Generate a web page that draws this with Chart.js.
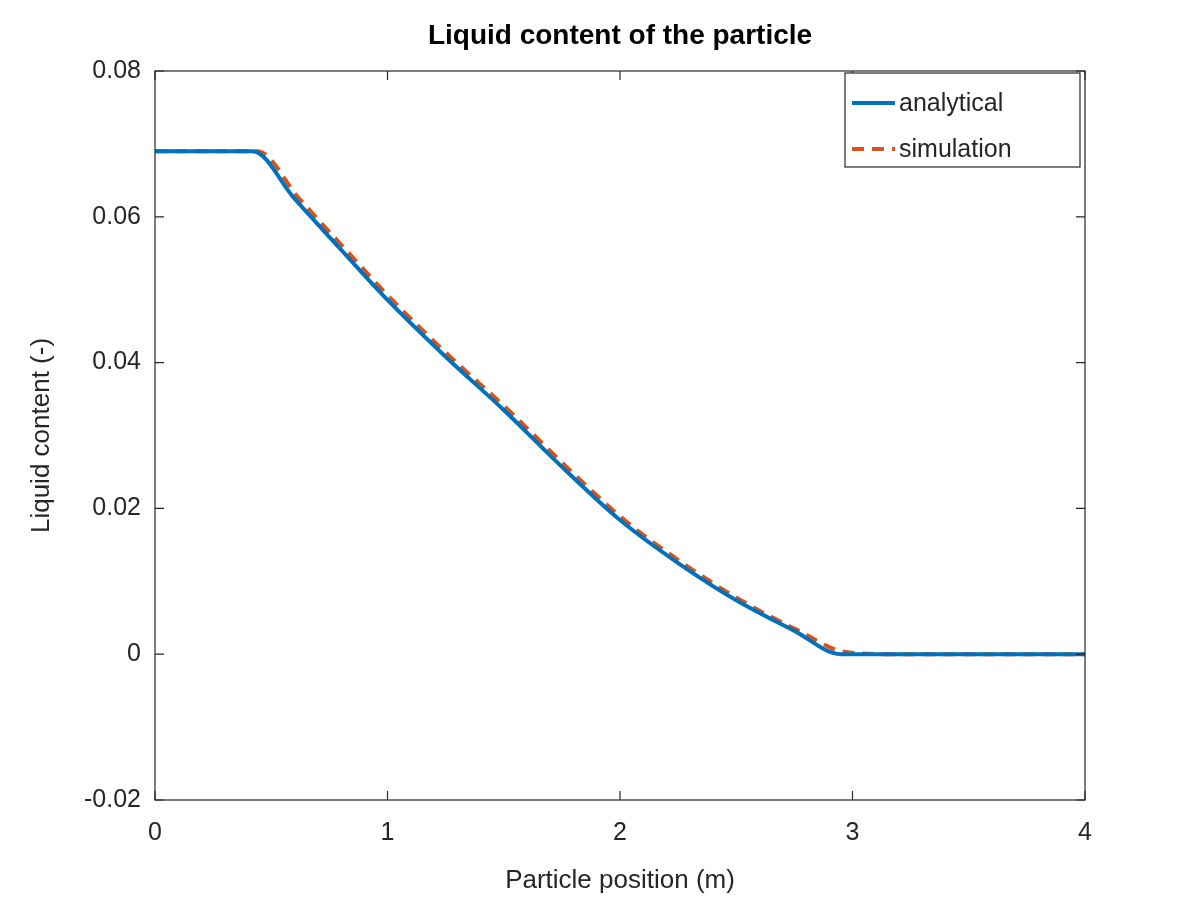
<!DOCTYPE html>
<html>
<head>
<meta charset="utf-8">
<script src="https://cdn.jsdelivr.net/npm/chart.js@4"></script>
<style>
  html, body { margin: 0; background: #fff; }
  #wrap { width: 1200px; height: 900px; }
</style>
</head>
<body>
<div id="wrap"><canvas id="chart" width="1200" height="900"></canvas></div>
<script>
const ctx = document.getElementById("chart").getContext("2d");

// values
const analyticalX = [0, 0.42, 0.6, 0.8, 1.0, 1.25, 1.5, 1.75, 2.0, 2.25, 2.5, 2.75, 2.95, 3.2, 4];
const analyticalY = [0.069, 0.069, 0.0625, 0.0555, 0.0486, 0.0408, 0.0335, 0.0257, 0.0184, 0.0125, 0.0074, 0.0032, 0, 0, 0];
const simulationX = [0, 0.44, 0.62, 0.82, 1.02, 1.27, 1.52, 1.77, 2.02, 2.27, 2.52, 2.77, 2.97, 3.2, 4];
const simulationY = [0.069, 0.069, 0.0625, 0.0555, 0.0486, 0.0408, 0.0335, 0.0257, 0.0184, 0.0125, 0.0074, 0.0032, 0.0003, 0, 0];
const xTicks = [0, 1, 2, 3, 4];
const yTicks = [-0.02, 0, 0.02, 0.04, 0.06, 0.08];

const FONT = "'Liberation Sans', Arial, sans-serif";
const pts = (xs, ys) => xs.map((x, i) => ({ x: x, y: ys[i] }));

const frame = {
  id: "frame",
  afterDraw(c) {
    const a = c.chartArea, g = c.ctx, xs = c.scales.x, ys = c.scales.y;
    g.save();
    g.strokeStyle = "#262626";
    g.lineWidth = 1.2;
    g.strokeRect(a.left, a.top, a.right - a.left, a.bottom - a.top);
    g.beginPath();
    xTicks.forEach(v => {
      const p = xs.getPixelForValue(v);
      g.moveTo(p, a.bottom); g.lineTo(p, a.bottom - 9);
      g.moveTo(p, a.top); g.lineTo(p, a.top + 9);
    });
    yTicks.forEach(v => {
      const p = ys.getPixelForValue(v);
      g.moveTo(a.left, p); g.lineTo(a.left + 9, p);
      g.moveTo(a.right, p); g.lineTo(a.right - 9, p);
    });
    g.stroke();
    // title
    g.fillStyle = "#000";
    g.font = "bold 28px " + FONT;
    g.textAlign = "center"; g.textBaseline = "middle";
    g.fillText("Liquid content of the particle", (a.left + a.right) / 2, 36);
    // legend
    const lx = 845, ly = 73, lw = 235, lh = 94;
    g.fillStyle = "#fff";
    g.fillRect(lx, ly, lw, lh);
    g.strokeRect(lx, ly, lw, lh);
    g.font = "25px " + FONT;
    g.textAlign = "left";
    g.fillStyle = "#262626";
    c.data.datasets.forEach((d, i) => {
      const y = ly + 30 + i * 46;
      g.strokeStyle = d.borderColor; g.lineWidth = 4;
      g.setLineDash(d.borderDash || []);
      g.beginPath(); g.moveTo(852, y); g.lineTo(895, y); g.stroke();
      g.setLineDash([]);
      g.fillText(d.label, 899, y + 1);
    });
    g.restore();
  }
};

new Chart(ctx, {
  type: "scatter",
  data: {
    datasets: [
      { label: "analytical", data: pts(analyticalX, analyticalY), showLine: true,
        borderColor: "#0072BD", borderWidth: 4, pointRadius: 0, cubicInterpolationMode: "monotone" },
      { label: "simulation", data: pts(simulationX, simulationY), showLine: true,
        borderColor: "#D95319", borderWidth: 4, borderDash: [12, 8], pointRadius: 0, cubicInterpolationMode: "monotone" }
    ]
  },
  options: {
    responsive: false,
    animation: false,
    layout: { padding: { top: 71, right: 115, left: 0, bottom: 0 } },
    plugins: { legend: { display: false }, title: { display: false }, tooltip: { enabled: false } },
    scales: {
      x: {
        type: "linear", min: 0, max: 4,
        afterFit: s => { s.height = 100; },
        afterBuildTicks: s => { s.ticks = xTicks.map(v => ({ value: v })); },
        grid: { display: false, drawTicks: false }, border: { display: false },
        ticks: { color: "#262626", font: { family: FONT, size: 25 }, padding: 18 },
        title: { display: true, text: "Particle position (m)", color: "#262626",
                 font: { family: FONT, size: 26 }, padding: { top: 0 } }
      },
      y: {
        type: "linear", min: -0.02, max: 0.08,
        afterFit: s => { s.width = 155; },
        afterBuildTicks: s => { s.ticks = yTicks.map(v => ({ value: v })); },
        grid: { display: false, drawTicks: false }, border: { display: false },
        ticks: { color: "#262626", font: { family: FONT, size: 25 }, padding: 14,
                 callback: v => v === 0 ? "0" : v.toFixed(2) },
        title: { display: true, text: "Liquid content (-)", color: "#262626",
                 font: { family: FONT, size: 26 }, padding: { top: 26, bottom: 0 } }
      }
    }
  },
  plugins: [frame]
});
</script>
</body>
</html>
